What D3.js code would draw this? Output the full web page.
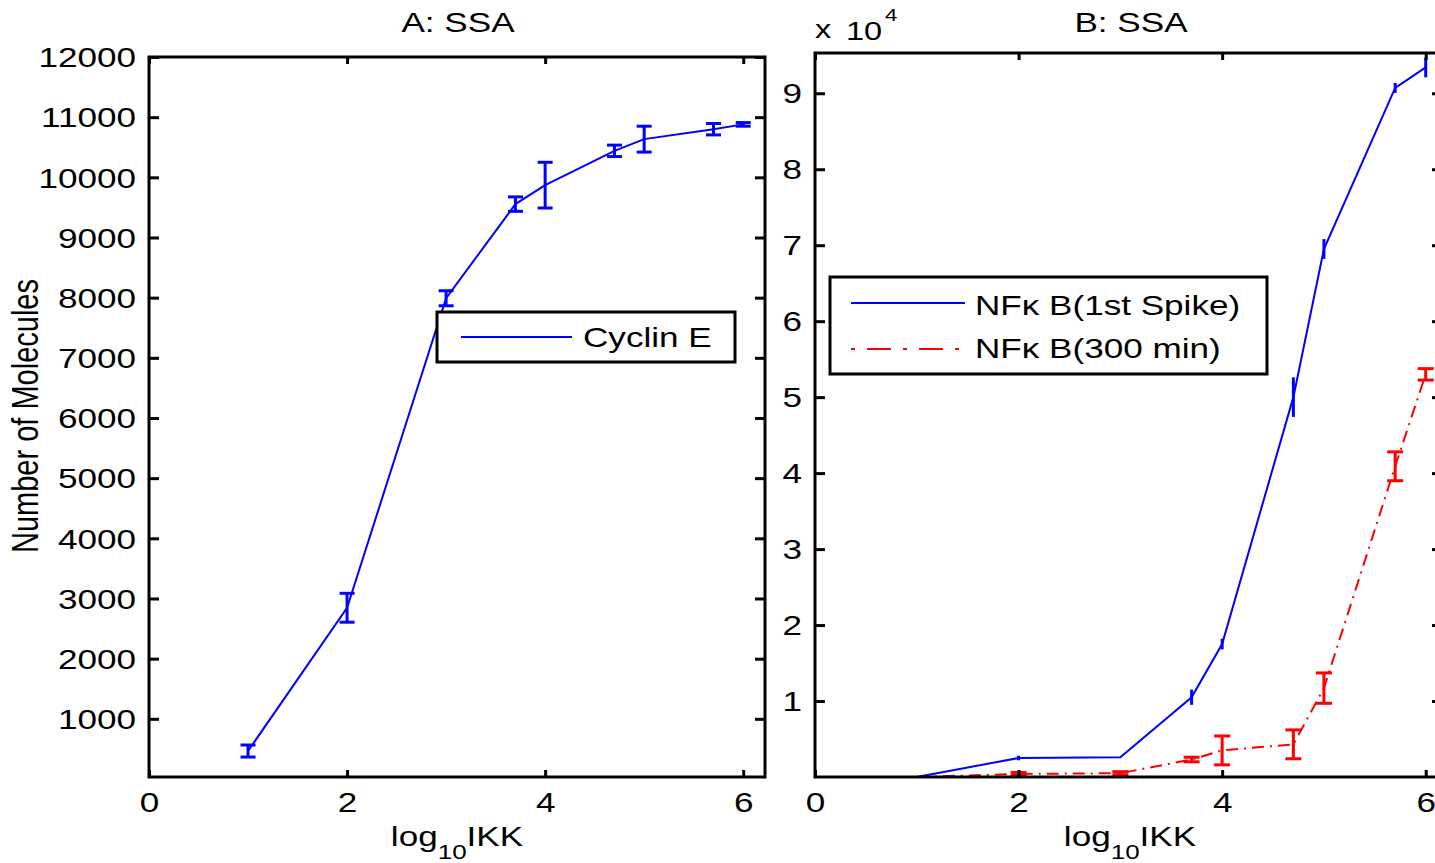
<!DOCTYPE html>
<meta charset="utf-8">
<style>
body { margin: 0; background: #fff; }
svg { display: block; background: #fff; font-family: "Liberation Sans", Arial, Helvetica, sans-serif; }
</style>
<svg width="1435" height="863"></svg>
<script src="https://cdn.jsdelivr.net/npm/d3@7"></script>
<script>

// panel A
var xTicks = [0, 2, 4, 6];
var logIKK = [1, 2, 3, 3.7, 4, 4.7, 5, 5.7, 6];
var cyclinE = [465, 2846, 7990, 9555, 9870, 10440, 10635, 10800, 10880];
var cyclinErr = [100, 240, 125, 120, 380, 95, 215, 95, 30];
var yTicksA = [1000, 2000, 3000, 4000, 5000, 6000, 7000, 8000, 9000, 10000, 11000, 12000];

// panel B
var logIKK1 = [0, 1, 2, 3, 3.7, 4, 4.7, 5, 5.7, 6];
var spike = [0, 0, 2500, 2600, 10500, 17500, 50000, 69500, 90700, 93400];
var spikeErr = [0, 0, 300, 0, 1000, 700, 2600, 1300, 650, 1300];
var logIKK2 = [1, 2, 3, 3.7, 4, 4.7, 5, 5.7, 6];
var min300 = [0, 400, 500, 2300, 3500, 4300, 11700, 40900, 53000];
var min300Err = [0, 200, 200, 300, 1900, 1900, 2000, 1900, 750];
var yTicksB = [10000, 20000, 30000, 40000, 50000, 60000, 70000, 80000, 90000];

var svg = d3.select("svg");
var SX = 1.3;   // text in the picture is wide

function label(x, y, str, size, anchor) {
  return svg.append("text")
    .attr("transform", "translate(" + x + "," + y + ") scale(" + SX + ",1)")
    .attr("font-size", size)
    .attr("text-anchor", anchor || "start")
    .attr("fill", "#000")
    .text(str);
}

function axes(x, y, yTicks, yFmt) {
  var x0 = x.range()[0], x1 = x.range()[1], y0 = y.range()[0], y1 = y.range()[1];

  var gb = svg.append("g").attr("transform", "translate(0," + y0 + ")")
    .call(d3.axisBottom(x).tickValues(xTicks).tickSizeInner(-7).tickSizeOuter(0).tickFormat(d3.format("d")));
  var gt = svg.append("g").attr("transform", "translate(0," + y1 + ")")
    .call(d3.axisTop(x).tickValues(xTicks).tickSizeInner(-7).tickSizeOuter(0).tickFormat(""));
  var gl = svg.append("g").attr("transform", "translate(" + x0 + ",0)")
    .call(d3.axisLeft(y).tickValues(yTicks).tickSizeInner(-10).tickSizeOuter(0).tickFormat(yFmt));
  var gr = svg.append("g").attr("transform", "translate(" + x1 + ",0)")
    .call(d3.axisRight(y).tickValues(yTicks).tickSizeInner(-10).tickSizeOuter(0).tickFormat(""));

  [gb, gt, gl, gr].forEach(function(g) {
    g.attr("font-family", null).attr("font-size", 27);
    g.select(".domain").remove();
    g.selectAll("line").attr("stroke", "#000").attr("stroke-width", 3);
    g.selectAll("text").attr("fill", "#000");
  });
  gb.selectAll("text").attr("y", 16).attr("dy", "0.71em").attr("transform", "scale(" + SX + ",1)");
  gl.selectAll("text").attr("x", -13 / SX).attr("dy", "0.36em").attr("transform", "scale(" + SX + ",1)");

  svg.append("rect")
    .attr("x", x0).attr("y", y1)
    .attr("width", x1 - x0).attr("height", y0 - y1)
    .attr("fill", "none").attr("stroke", "#000").attr("stroke-width", 3);
}

function series(x, y, xs, ys, es, color, dash, cap) {
  var line = d3.line().x(function(d, i) { return x(xs[i]); }).y(function(d) { return y(d); });
  svg.append("path").datum(ys)
    .attr("d", line)
    .attr("fill", "none")
    .attr("stroke", color)
    .attr("stroke-width", 2)
    .attr("stroke-dasharray", dash);

  var bars = svg.append("g").attr("stroke", color).attr("stroke-width", 3);
  ys.forEach(function(v, i) {
    if (!es[i]) return;
    var cx = x(xs[i]), lo = y(v - es[i]), hi = y(v + es[i]);
    bars.append("line").attr("x1", cx).attr("x2", cx).attr("y1", lo).attr("y2", hi);
    if (cap > 0) {
      bars.append("line").attr("x1", cx - cap / 2).attr("x2", cx + cap / 2).attr("y1", lo).attr("y2", lo);
      bars.append("line").attr("x1", cx - cap / 2).attr("x2", cx + cap / 2).attr("y1", hi).attr("y2", hi);
    }
  });
}

function xTitle(cx) {
  var t = svg.append("text")
    .attr("transform", "translate(" + cx + ",846) scale(" + SX + ",1)")
    .attr("font-size", 27)
    .attr("text-anchor", "middle");
  t.append("tspan").text("log");
  t.append("tspan").attr("font-size", 20).attr("dy", 13).text("10");
  t.append("tspan").attr("dy", -13).text("IKK");
}

// ---- A: SSA ----
var xA = d3.scaleLinear().domain([0, 6.22]).range([149, 765]);
var yA = d3.scaleLinear().domain([33, 12000]).range([777, 57]);

axes(xA, yA, yTicksA, d3.format("d"));
series(xA, yA, logIKK, cyclinE, cyclinErr, "#0000ff", null, 15);

label(458, 32, "A: SSA", 27, "middle");
xTitle(457);
svg.append("text")
  .attr("transform", "translate(38,416) scale(" + SX + ",1) rotate(-90)")
  .attr("font-size", 29)
  .attr("text-anchor", "middle")
  .text("Number of Molecules");

svg.append("rect").attr("x", 437).attr("y", 312).attr("width", 298).attr("height", 50)
  .attr("fill", "#fff").attr("stroke", "#000").attr("stroke-width", 3);
svg.append("line").attr("x1", 461).attr("x2", 572).attr("y1", 337).attr("y2", 337)
  .attr("stroke", "#0000ff").attr("stroke-width", 2);
label(583, 347, "Cyclin E", 27);

// ---- B: SSA ----
var xB = d3.scaleLinear().domain([0, 6.16]).range([815, 1442]);
var yB = d3.scaleLinear().domain([0, 95300]).range([777, 53]);

series(xB, yB, logIKK2, min300, min300Err, "#ff0000", "12,6,2,6", 16);
series(xB, yB, logIKK1, spike, spikeErr, "#0000ff", null, 0);
axes(xB, yB, yTicksB, function(d) { return d / 1e4; });

label(1131, 32, "B: SSA", 27, "middle");
xTitle(1130);
label(815, 38, "x", 25);
label(846, 40, "10", 25);
label(885, 21, "4", 17);

svg.append("rect").attr("x", 830).attr("y", 277).attr("width", 437).attr("height", 97)
  .attr("fill", "#fff").attr("stroke", "#000").attr("stroke-width", 3);
svg.append("line").attr("x1", 851).attr("x2", 965).attr("y1", 303).attr("y2", 303)
  .attr("stroke", "#0000ff").attr("stroke-width", 2);
svg.append("line").attr("x1", 851).attr("x2", 965).attr("y1", 349).attr("y2", 349)
  .attr("stroke", "#ff0000").attr("stroke-width", 2).attr("stroke-dasharray", "4,12,24,12");
label(975, 315, "NFκ B(1st Spike)", 27);
label(975, 358, "NFκ B(300 min)", 27);

</script>
